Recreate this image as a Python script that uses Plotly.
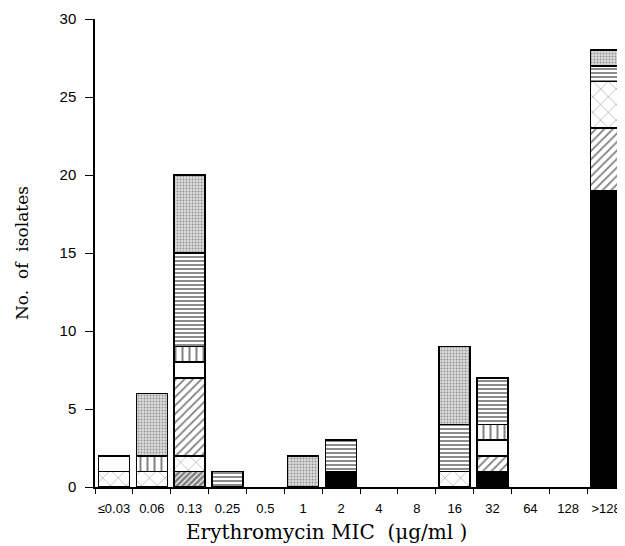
import plotly.graph_objects as go

categories = ["≤0.03", "0.06", "0.13", "0.25", "0.5", "1", "2", "4", "8", "16", "32", "64", "128", ">128"]

# stacked segments, bottom to top (None = no segment)
black       = [None, None, None, None, None, None, 1, None, None, None, 1, None, None, 19]
dense_diag  = [None, None, 1, None, None, None, None, None, None, None, None, None, None, None]
dashed_low  = [1, 1, 1, None, None, None, None, None, None, 1, None, None, None, None]
diagonal    = [None, None, 5, None, None, None, None, None, None, None, 1, None, None, 4]
dashed_high = [None, None, None, None, None, None, None, None, None, None, None, None, None, 3]
white       = [1, None, 1, None, None, None, None, None, None, None, 1, None, None, None]
vertical    = [None, 1, 1, None, None, None, None, None, None, None, 1, None, None, None]
horizontal  = [None, None, 6, 1, None, None, 2, None, None, 3, 3, None, None, 1]
stipple     = [None, 4, 5, None, None, 2, None, None, None, 5, None, None, None, 1]

y_ticks = [0, 5, 10, 15, 20, 25, 30]

def pat(shape, size, solidity, fg="black", bg="white"):
    return dict(color=bg, pattern=dict(shape=shape, fgcolor=fg,
                                       size=size, solidity=solidity, fillmode="overlay"))

series = [
    ("black", black, dict(color="black")),
    ("dense diagonal", dense_diag, pat("/", 4, 0.7)),
    ("dashed", dashed_low, pat("x", 11, 0.08)),
    ("diagonal", diagonal, pat("/", 6, 0.3)),
    ("dashed ", dashed_high, pat("x", 11, 0.08)),
    ("white", white, dict(color="white")),
    ("vertical", vertical, pat("|", 7, 0.28)),
    ("horizontal", horizontal, pat("-", 4, 0.45)),
    ("stipple", stipple, pat(".", 3, 0.3, "#444444", "#dcdcdc")),
]

fig = go.Figure()
for name, vals, marker in series:
    m = dict(marker)
    m["line"] = dict(color="black", width=1.5)
    fig.add_trace(go.Bar(
        x=categories, y=vals, name=name, marker=m,
        width=0.82, showlegend=False,
    ))

# page body adds an 8px margin, so the figure is 8px smaller on each axis
fig.update_layout(
    barmode="stack",
    width=617, height=538,
    margin=dict(l=87, r=0, t=11, b=59, autoexpand=False),
    paper_bgcolor="white", plot_bgcolor="white",
    font=dict(family="Liberation Sans", color="black"),
)
fig.update_xaxes(
    type="category", categoryorder="array", categoryarray=categories,
    range=[-0.5, 13.5], automargin=False,
    showline=True, linecolor="black", linewidth=1.5,
    ticks="outside", ticklen=5, tickwidth=1.2, tickcolor="black",
    tickson="boundaries", tickangle=0,
    tickfont=dict(family="Liberation Sans", size=13),
    ticklabelstandoff=9,
    showgrid=False, zeroline=False,
)
fig.update_yaxes(
    range=[0, 30], tickvals=y_ticks, automargin=False,
    showline=True, linecolor="black", linewidth=1.5,
    ticks="outside", ticklen=8, tickwidth=1.2, tickcolor="black",
    tickfont=dict(family="Liberation Sans", size=15),
    ticklabelstandoff=6,
    showgrid=False, zeroline=False,
)

fig.add_annotation(
    text="Erythromycin MIC  (μg/ml )", xref="paper", yref="paper",
    x=(326 - 95) / 530, y=-(532 - 487) / 468, xanchor="center", yanchor="middle",
    showarrow=False, font=dict(family="DejaVu Serif", size=20, color="black"),
)
fig.add_annotation(
    text="No.  of  isolates", xref="paper", yref="paper",
    x=-(95 - 22) / 530, y=(487 - 253) / 468, xanchor="center", yanchor="middle",
    textangle=-90, showarrow=False,
    font=dict(family="DejaVu Serif", size=17, color="black"),
)

fig.write_html("out.html")
